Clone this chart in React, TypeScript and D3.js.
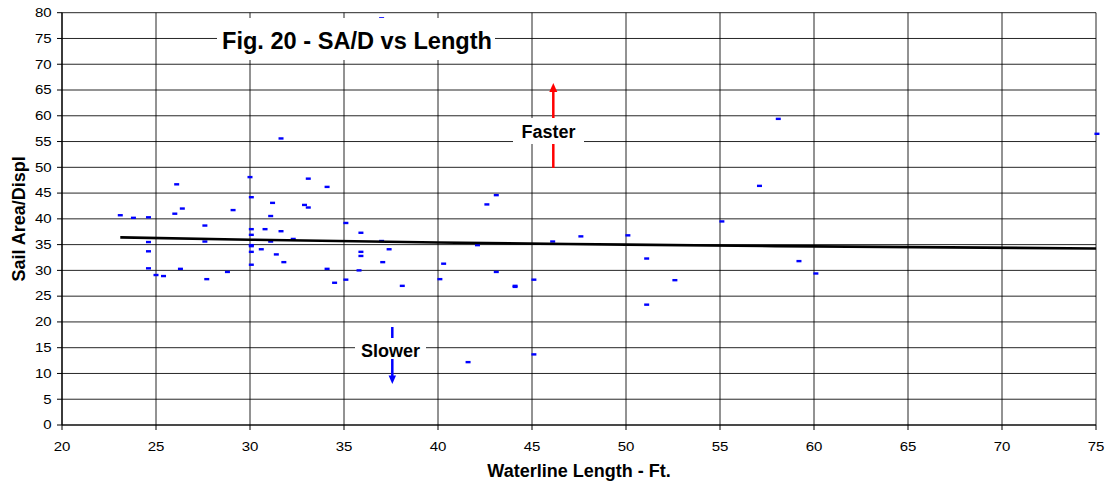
import React from "react";
import * as d3 from "d3";

const xTicks = [20, 25, 30, 35, 40, 45, 50, 55, 60, 65, 70, 75];
const yTicks = [0, 5, 10, 15, 20, 25, 30, 35, 40, 45, 50, 55, 60, 65, 70, 75, 80];

const lengths = [
  23.1, 23.8, 24.6, 24.6, 24.6, 24.6, 25.0, 25.4, 26.0, 26.4, 26.1, 26.3, 27.6, 27.6, 27.7, 28.8,
  29.1, 30.0, 30.07, 30.07, 30.07, 30.07, 30.07, 30.07, 30.07, 30.6, 30.8, 31.1, 31.1, 31.2, 31.4,
  31.65, 31.65, 31.8, 32.3, 32.9, 33.1, 33.1, 34.1, 34.1, 34.5, 35.1, 35.1, 35.8, 35.9, 35.9, 35.9,
  37.0, 37.0, 37.06, 37.4, 38.1, 40.1, 40.3, 41.6, 42.1, 42.6, 43.1, 43.1, 44.1, 44.1, 45.1, 45.1,
  46.1, 47.6, 50.1, 51.1, 51.1, 52.6, 55.1, 57.1, 58.1, 59.2, 60.1, 75.05,
];
const sadValues = [
  40.7, 40.2, 40.3, 35.5, 33.7, 30.4, 29.1, 28.9, 41.0, 42.0, 46.7, 30.3, 38.7, 35.6, 28.3, 29.7,
  41.7, 48.1, 44.2, 38.0, 36.9, 34.9, 34.7, 33.6, 31.1, 34.1, 38.0, 40.55, 35.6, 43.1, 33.1,
  55.6, 37.6, 31.6, 36.1, 42.7, 42.2, 47.8, 46.2, 30.3, 27.6, 39.2, 28.2, 30.0, 37.3, 33.6, 32.8,
  78.9, 35.7, 31.6, 34.1, 27.0, 28.3, 31.3, 12.2, 34.9, 42.8, 44.6, 29.7, 27.0, 26.8, 28.2, 13.7,
  35.6, 36.6, 36.8, 32.3, 23.35, 28.1, 39.5, 46.4, 59.4, 31.8, 29.4, 56.5,
];

const trendX = [23.1, 30, 40, 50, 60, 75];
const trendY = [36.4, 35.95, 35.4, 35.0, 34.65, 34.25];

const W = 1109;
const H = 484;
const L = 62;
const R = 1096;
const T = 12.7;
const B = 425;

function StretchText({ x, y, anchor, children }: { x: number; y: number; anchor: string; children: any }) {
  const sx = 1.25;
  return (
    <text
      transform={`translate(${x},${y}) scale(${sx},1)`}
      textAnchor={anchor}
      fontFamily="Liberation Sans, Arial, sans-serif"
      fontSize={12}
      fill="#000"
    >
      {children}
    </text>
  );
}

export default function App() {
  const x = d3.scaleLinear().domain([20, 75]).range([L, R]);
  const y = d3.scaleLinear().domain([0, 80]).range([B, T]);
  const pts = lengths.map((l, i) => [l, sadValues[i]] as [number, number]);
  const trendPts = trendX.map((tx, i) => [tx, trendY[i]] as [number, number]);
  const trendPath = d3
    .line<[number, number]>()
    .x((d) => x(d[0]))
    .y((d) => y(d[1]))
    .curve(d3.curveMonotoneX)(trendPts) as string;

  const bold = "Liberation Sans, Arial, sans-serif";

  return (
    <svg width={W} height={H} style={{ position: "absolute", left: 0, top: 0, background: "#fff" }}>
      <rect x={0} y={0} width={W} height={H} fill="#fff" />
      {/* grid */}
      {yTicks.map((t) => (
        <line key={"gy" + t} x1={L} x2={R} y1={y(t)} y2={y(t)} stroke="#000" strokeWidth={1} strokeOpacity={0.85} />
      ))}
      {xTicks.map((t) => (
        <line key={"gx" + t} x1={x(t)} x2={x(t)} y1={T} y2={B} stroke="#000" strokeWidth={1} strokeOpacity={0.85} />
      ))}
      {/* axes */}
      <line x1={L} x2={L} y1={T} y2={B} stroke="#000" strokeWidth={1.2} />
      <line x1={L} x2={R} y1={B} y2={B} stroke="#000" strokeWidth={1.2} />
      {yTicks.map((t) => (
        <line key={"ty" + t} x1={L - 5} x2={L} y1={y(t)} y2={y(t)} stroke="#000" strokeWidth={1} />
      ))}
      {xTicks.map((t) => (
        <line key={"tx" + t} x1={x(t)} x2={x(t)} y1={B} y2={B + 5} stroke="#000" strokeWidth={1} />
      ))}
      {yTicks.map((t) => (
        <StretchText key={"ly" + t} x={51.7} y={y(t) + 4.3} anchor="end">
          {t}
        </StretchText>
      ))}
      {xTicks.map((t) => (
        <StretchText key={"lx" + t} x={x(t)} y={451} anchor="middle">
          {t}
        </StretchText>
      ))}
      {/* markers */}
      {pts.map((p, i) => (
        <rect key={"p" + i} x={x(p[0]) - 2.5} y={y(p[1]) - 1.2} width={5} height={2.4} fill="#0000ff" />
      ))}
      {/* trend */}
      <path d={trendPath} fill="none" stroke="#000" strokeWidth={2.6} />
      {/* faster arrow */}
      <line x1={553.3} x2={553.3} y1={168} y2={90} stroke="#ff0000" strokeWidth={2.5} />
      <path d="M553.3,83 L549.3,92 L557.3,92 Z" fill="#ff0000" />
      <rect x={513} y={118} width={71} height={26} fill="#fff" />
      <text x={548.5} y={138} textAnchor="middle" fontFamily={bold} fontWeight="bold" fontSize={18} fill="#000">
        Faster
      </text>
      {/* slower arrow */}
      <line x1={392.3} x2={392.3} y1={327} y2={377} stroke="#0000ff" strokeWidth={2.5} />
      <path d="M392.3,384 L388.6,375.5 L396,375.5 Z" fill="#0000ff" />
      <rect x={355} y={338} width={71} height={21} fill="#fff" />
      <text x={390.5} y={357} textAnchor="middle" fontFamily={bold} fontWeight="bold" fontSize={18} fill="#000">
        Slower
      </text>
      {/* title */}
      <rect x={217} y={18} width={278} height={42} fill="#fff" />
      <text x={357} y={48.5} textAnchor="middle" fontFamily={bold} fontWeight="bold" fontSize={23.6} fill="#000">
        Fig. 20 - SA/D vs Length
      </text>
      {/* axis titles */}
      <text x={579} y={476.7} textAnchor="middle" fontFamily={bold} fontWeight="bold" fontSize={18} fill="#000">
        Waterline Length - Ft.
      </text>
      <text
        transform={`translate(25,${(T + B) / 2}) rotate(-90)`}
        textAnchor="middle"
        fontFamily={bold}
        fontWeight="bold"
        fontSize={18}
        fill="#000"
      >
        Sail Area/Displ
      </text>
    </svg>
  );
}
